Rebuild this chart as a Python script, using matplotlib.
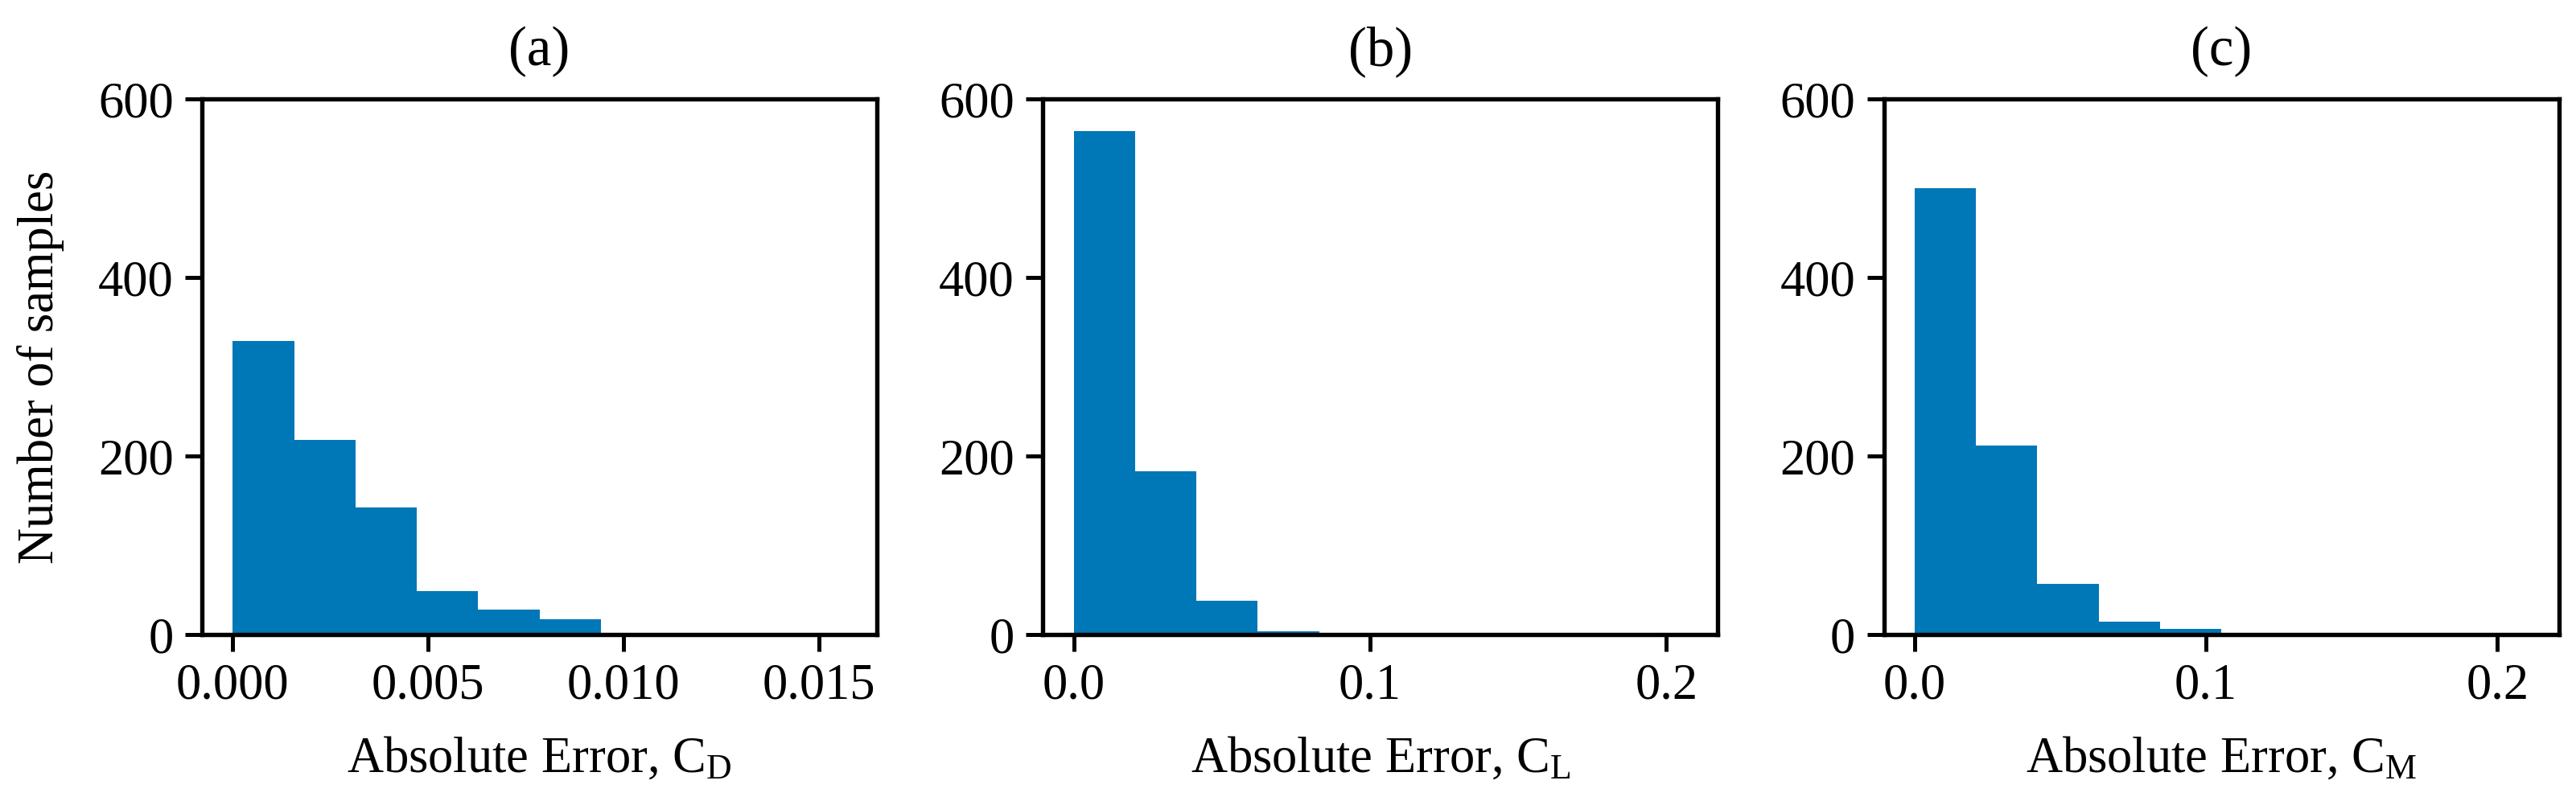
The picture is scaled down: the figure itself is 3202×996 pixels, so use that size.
import numpy as np
import matplotlib
matplotlib.use('Agg')
import matplotlib.pyplot as plt

# histogram counts per bin (10 equal bins from 0 to max error)
cd_counts = [329, 218, 142, 49, 28, 17, 0, 2, 0, 1]
cl_counts = [564, 183, 38, 4, 2, 0, 0, 0, 0, 1]
cm_counts = [500, 212, 57, 14, 6, 0, 0, 0, 0, 1]
max_err = [0.01569, 0.207, 0.2105]

titles = ['(a)', '(b)', '(c)']
xlabels = [r'Absolute Error, $\mathrm{C_D}$', r'Absolute Error, $\mathrm{C_L}$',
           r'Absolute Error, $\mathrm{C_M}$']
xticks = [[0, 0.005, 0.010, 0.015], [0, 0.1, 0.2], [0, 0.1, 0.2]]
yticks = [0, 200, 400, 600]

plt.rcParams['font.family'] = 'Liberation Serif'
plt.rcParams['mathtext.fontset'] = 'custom'
plt.rcParams['mathtext.rm'] = 'Liberation Serif'
plt.rcParams['font.size'] = 15

fig, axes = plt.subplots(1, 3, figsize=(3203 / 300, 996 / 300), dpi=300)
fig.subplots_adjust(left=0.0784, right=0.993, top=0.8765, bottom=0.2078, wspace=0.246)

for ax, counts, mx, t, xl, xt in zip(axes, [cd_counts, cl_counts, cm_counts], max_err,
                                      titles, xlabels, xticks):
    edges = np.linspace(0, mx, len(counts) + 1)
    ax.hist(edges[:-1], bins=edges, weights=counts, color='#0077b6')
    ax.set_ylim(0, 600)
    ax.set_yticks(yticks)
    ax.set_xticks(xt)
    ax.set_title(t, fontsize=16.5, pad=10)
    ax.set_xlabel(xl, labelpad=8)
    ax.tick_params(length=5, width=1.2)
    for s in ax.spines.values():
        s.set_linewidth(1.3)

axes[0].set_ylabel('Number of samples', labelpad=10)

fig.savefig('out.png', dpi=300)
